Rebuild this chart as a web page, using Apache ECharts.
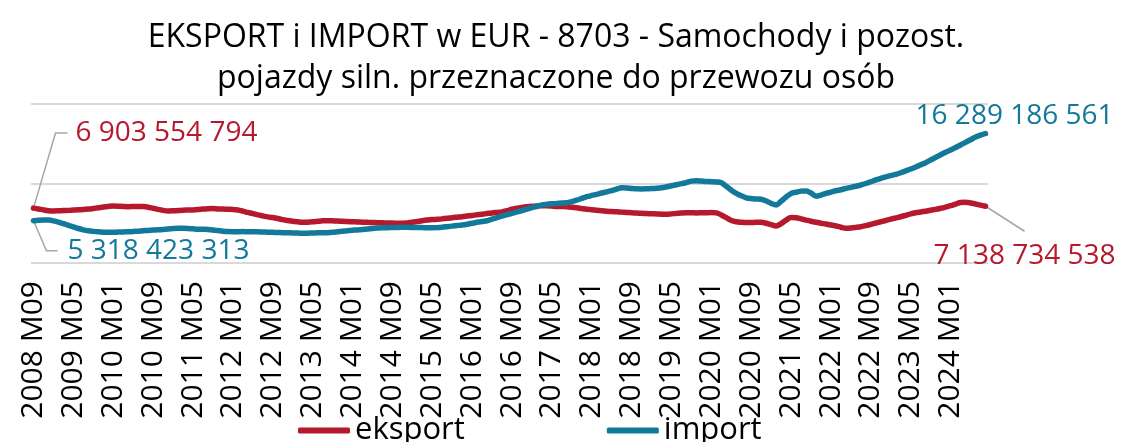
<!DOCTYPE html>
<html>
<head>
<meta charset="utf-8">
<script src="https://cdn.jsdelivr.net/npm/echarts@6/dist/echarts.min.js"></script>
<style>
  html, body { margin: 0; padding: 0; background: #fff; }
  #chart { width: 1122px; height: 442px; }
</style>
</head>
<body>
<div id="chart"></div>
<script>
// wartości w mld EUR, miesięcznie od 2008 M09
const eksport = [
  6.903554794, 6.80, 6.68, 6.58, 6.54, 6.56, 6.60, 6.62, 6.67, 6.70, 6.72, 6.78,
  6.86, 6.95, 7.05, 7.12, 7.17, 7.15, 7.10, 7.08, 7.10, 7.12, 7.10, 7.02,
  6.88, 6.75, 6.62, 6.55, 6.56, 6.60, 6.64, 6.66, 6.68, 6.72, 6.78, 6.82,
  6.84, 6.80, 6.78, 6.76, 6.74, 6.66, 6.52, 6.36, 6.22, 6.05, 5.92, 5.80,
  5.72, 5.60, 5.45, 5.35, 5.25, 5.18, 5.12, 5.14, 5.18, 5.24, 5.30, 5.32,
  5.30, 5.28, 5.24, 5.21, 5.19, 5.17, 5.14, 5.12, 5.09, 5.07, 5.05, 5.04,
  5.02, 5.00, 4.99, 5.04, 5.12, 5.22, 5.32, 5.40, 5.46, 5.50, 5.55, 5.62,
  5.70, 5.76, 5.82, 5.90, 5.98, 6.06, 6.14, 6.22, 6.30, 6.36, 6.42, 6.58,
  6.76, 6.90, 7.00, 7.08, 7.14, 7.18, 7.21, 7.20, 7.16, 7.12, 7.10, 7.08,
  7.02, 6.94, 6.84, 6.75, 6.70, 6.64, 6.58, 6.52, 6.47, 6.44, 6.40, 6.36,
  6.32, 6.28, 6.25, 6.22, 6.20, 6.17, 6.14, 6.12, 6.18, 6.24, 6.30, 6.33,
  6.32, 6.30, 6.32, 6.33, 6.34, 6.30, 6.05, 5.70, 5.35, 5.19, 5.12, 5.08,
  5.10, 5.12, 5.12, 5.00, 4.82, 4.66, 4.95, 5.40, 5.72, 5.70, 5.55, 5.40,
  5.25, 5.12, 5.00, 4.90, 4.78, 4.65, 4.50, 4.36, 4.40, 4.48, 4.57, 4.70,
  4.86, 5.03, 5.19, 5.35, 5.52, 5.67, 5.82, 6.00, 6.18, 6.32, 6.42, 6.52,
  6.63, 6.75, 6.88, 7.04, 7.22, 7.42, 7.62, 7.64, 7.55, 7.42, 7.28, 7.138734538
]

const importData = [
  5.318423313, 5.38, 5.42, 5.40, 5.30, 5.15, 4.95, 4.74, 4.54, 4.34, 4.17, 4.06,
  3.98, 3.92, 3.88, 3.86, 3.87, 3.89, 3.91, 3.93, 3.96, 4.00, 4.05, 4.10,
  4.14, 4.17, 4.22, 4.28, 4.33, 4.36, 4.36, 4.34, 4.30, 4.26, 4.24, 4.22,
  4.16, 4.08, 4.00, 3.95, 3.93, 3.94, 3.95, 3.94, 3.94, 3.93, 3.90, 3.88,
  3.86, 3.84, 3.82, 3.80, 3.78, 3.76, 3.74, 3.75, 3.77, 3.79, 3.80, 3.81,
  3.86, 3.93, 4.00, 4.07, 4.12, 4.16, 4.22, 4.29, 4.35, 4.39, 4.42, 4.44,
  4.46, 4.48, 4.49, 4.49, 4.48, 4.46, 4.45, 4.44, 4.44, 4.45, 4.50, 4.57,
  4.64, 4.71, 4.78, 4.88, 5.00, 5.12, 5.22, 5.32, 5.52, 5.72, 5.91, 6.08,
  6.25, 6.42, 6.60, 6.78, 6.96, 7.14, 7.30, 7.38, 7.44, 7.49, 7.54, 7.58,
  7.72, 7.90, 8.12, 8.34, 8.50, 8.64, 8.80, 8.94, 9.10, 9.30, 9.47, 9.44,
  9.38, 9.33, 9.31, 9.33, 9.36, 9.40, 9.46, 9.58, 9.72, 9.85, 9.98, 10.12,
  10.30, 10.35, 10.30, 10.25, 10.23, 10.20, 10.10, 9.65, 9.15, 8.77, 8.45, 8.20,
  8.10, 8.05, 8.01, 7.80, 7.50, 7.30, 7.78, 8.30, 8.75, 8.90, 9.04, 9.06,
  8.80, 8.40, 8.55, 8.75, 8.92, 9.09, 9.22, 9.38, 9.52, 9.66, 9.81, 10.00,
  10.22, 10.45, 10.65, 10.84, 11.00, 11.15, 11.35, 11.58, 11.82, 12.08, 12.35, 12.62,
  12.95, 13.28, 13.62, 13.92, 14.22, 14.52, 14.84, 15.18, 15.50, 15.84, 16.08, 16.289186561
]

// etykiety osi X: 2008 M09 ... (co miesiąc)
const months = []
for (let y = 2008, m = 9; months.length < eksport.length; ) {
  months.push(y + ' M' + String(m).padStart(2, '0'))
  m++
  if (m > 12) { m = 1; y++ }
}

const yTicks = [0, 10, 20]

const red = '#b5192b'
const teal = '#13799a'
const font = 'Open Sans'

const fmt = v => String(Math.round(v * 1e9)).replace(/\B(?=(\d{3})+(?!\d))/g, ' ')

const chart = echarts.init(document.getElementById('chart'))

chart.setOption({
  animation: false,
  textStyle: { fontFamily: font },
  title: {
    text: 'EKSPORT i IMPORT w EUR - 8703 - Samochody i pozost.\npojazdy siln. przeznaczone do przewozu osób',
    left: 551,
    top: 12,
    textAlign: 'center',
    textStyle: { fontFamily: font, fontSize: 32, fontWeight: 'normal', color: '#000', lineHeight: 41 }
  },
  legend: {
    data: ['eksport', 'import'],
    left: 293,
    top: 410,
    icon: 'roundRect',
    itemWidth: 52,
    itemHeight: 6,
    itemGap: 142,
    textStyle: { fontFamily: font, fontSize: 31, color: '#000' }
  },
  grid: { left: 31, right: 134, top: 104, bottom: 179, outerBoundsMode: 'none' },
  xAxis: {
    type: 'category',
    data: months,
    boundaryGap: true,
    axisLine: { show: false },
    axisTick: { show: false },
    axisLabel: { interval: 7, rotate: 90, fontSize: 30, color: '#000', margin: 18, fontFamily: font }
  },
  yAxis: {
    type: 'value',
    min: yTicks[0],
    max: yTicks[yTicks.length - 1],
    interval: yTicks[1] - yTicks[0],
    axisLabel: { show: false },
    axisLine: { show: false },
    axisTick: { show: false },
    splitLine: { lineStyle: { color: '#d9d9d9', width: 2 } }
  },
  series: [
    {
      name: 'eksport',
      type: 'line',
      data: eksport,
      symbol: 'none',
      smooth: 0.3,
      color: red,
      lineStyle: { color: red, width: 5.5, cap: 'round', join: 'round' }
    },
    {
      name: 'import',
      type: 'line',
      data: importData,
      symbol: 'none',
      smooth: 0.3,
      color: teal,
      lineStyle: { color: teal, width: 5.5, cap: 'round', join: 'round' }
    }
  ]
})

// etykiety wartości na początku i końcu serii + linie odniesienia
const last = eksport.length - 1
const px = (si, i, v) => chart.convertToPixel({ seriesIndex: si }, [i, v])
const e0 = px(0, 0, eksport[0])
const eN = px(0, last, eksport[last])
const i0 = px(1, 0, importData[0])
const iN = px(1, last, importData[last])

const leader = pts => ({
  type: 'polyline',
  shape: { points: pts },
  style: { stroke: '#a6a6a6', lineWidth: 1.5, fill: null },
  z: 1
})
const valText = (x, y, text, color, align) => ({
  type: 'text',
  x, y,
  style: { text, fill: color, font: '28px "' + font + '"', align, verticalAlign: 'middle' },
  z: 5
})

chart.setOption({
  graphic: [
    leader([[e0[0], e0[1]], [e0[0] + 22, e0[1] - 75], [e0[0] + 34, e0[1] - 75]]),
    valText(e0[0] + 42, e0[1] - 75, fmt(eksport[0]), red, 'left'),
    leader([[i0[0], i0[1]], [i0[0] + 13, i0[1] + 30], [i0[0] + 24, i0[1] + 30]]),
    valText(i0[0] + 34, i0[1] + 30, fmt(importData[0]), teal, 'left'),
    valText(iN[0] + 128, iN[1] - 17, fmt(importData[last]), teal, 'right'),
    leader([[eN[0], eN[1]], [eN[0] + 39, eN[1] + 25]]),
    valText(eN[0] + 130, eN[1] + 50, fmt(eksport[last]), red, 'right')
  ]
})
</script>
</body>
</html>
